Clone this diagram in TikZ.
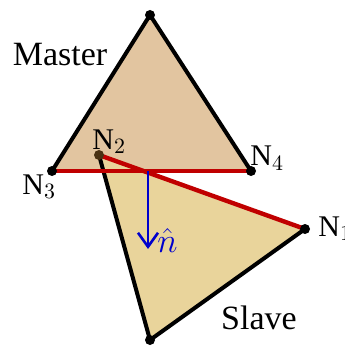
\documentclass[tikz,border=0pt]{standalone}
\usepackage{fontspec}
\setmainfont{Liberation Serif}
\usetikzlibrary{arrows.meta,positioning,calc}
\definecolor{ctMaster}{HTML}{E2C5A0}
\definecolor{ctSlave}{HTML}{E9D49B}
\definecolor{ctEdge}{HTML}{C00000}
\definecolor{ctNormal}{HTML}{0000CC}
\definecolor{ctDot}{HTML}{4A3214}
\tikzset{
  edge/.style={line width=2pt, black, line join=round},
  contact/.style={line width=2.2pt, ctEdge},
  vtx/.style={circle, fill=black, inner sep=0pt, minimum size=5pt},
  lbl/.style={font=\fontsize{15}{15}\selectfont, inner sep=0pt, anchor=base west},
  title/.style={font=\fontsize{17}{17}\selectfont, inner sep=0pt, anchor=base},
  normal/.style={-{Straight Barb[length=7pt,width=10pt]}, line width=1.3pt, ctNormal}
}

\begin{document}
\begin{tikzpicture}[x=0.5pt, y=-0.5pt]
  \useasboundingbox (0,0) rectangle (344,347);
  % vertices
  \coordinate (mtop) at (150,15);
  \coordinate (n3) at (52,171);
  \coordinate (n4) at (251,171);
  \coordinate (n2) at (99,155);
  \coordinate (n1) at (305,229);
  \coordinate (sbot) at (150,340);
  \coordinate (nbase) at (148,171);
  \coordinate (ntip) at (148,249);

  % master face
  \fill[ctMaster] (mtop) -- (n4) -- (n3) -- cycle;
  \draw[edge] (n3) -- (mtop) -- (n4);
  % slave face
  \fill[ctSlave] (n2) -- (n1) -- (sbot) -- cycle;
  \draw[edge] (n2) -- (sbot) -- (n1);
  % contact edges
  \draw[contact] (n3) -- (n4);
  \draw[contact] (n2) -- (n1);

  \node[vtx] (dtop) at (mtop) {};
  \node[vtx] (d3) at (n3) {};
  \node[vtx] (d4) at (n4) {};
  \node[vtx, fill=ctDot] (d2) at (n2) {};
  \node[vtx] (d1) at (n1) {};
  \node[vtx] (dbot) at (sbot) {};

  \draw[normal] (nbase) -- (ntip);
  \node[inner sep=0pt, text=ctNormal, font=\fontsize{19}{19}\selectfont, anchor=base west] (nhat) at (157,252) {$\hat{n}$};

  \node[title] (master) at (60,66) {Master};
  \node[title] (slave) at (259,329) {Slave};
  \node[lbl] (l2) at (92,149) {N$_2$};
  \node[lbl] (l4) at (250,166) {N$_4$};
  \node[lbl] (l3) at (22,194) {N$_3$};
  \node[lbl] (l1) at (318,236) {N$_1$};
\end{tikzpicture}
\end{document}
